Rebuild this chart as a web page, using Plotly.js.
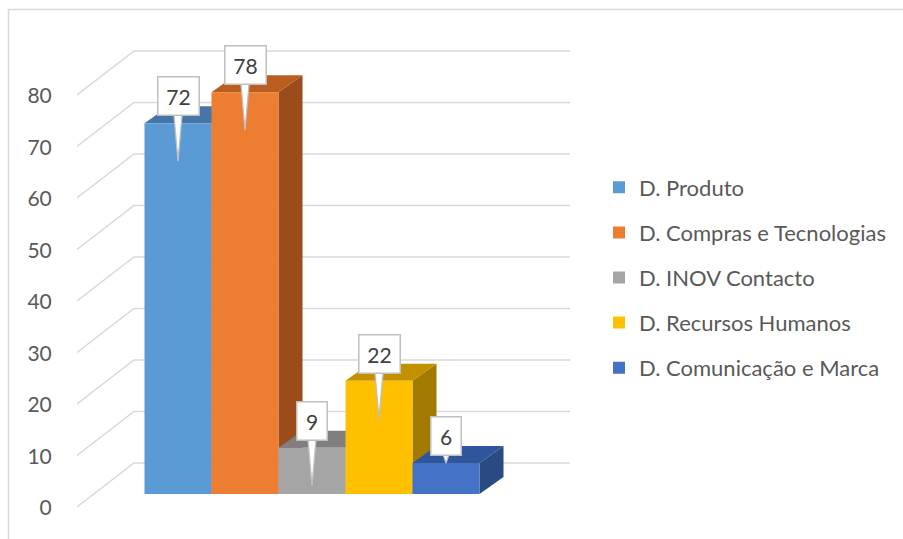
<!DOCTYPE html>
<html>
<head>
<meta charset="utf-8">
<script src="https://cdn.plot.ly/plotly-3.0.1.min.js"></script>
<style>html,body{margin:0;padding:0;background:#fff;} #chart{width:903px;height:539px;}</style>
</head>
<body>
<div id="chart"></div>
<script>
// ---- data ----
const categories = ['D. Produto', 'D. Compras e Tecnologias', 'D. INOV Contacto', 'D. Recursos Humanos', 'D. Comunicação e Marca'];
const values = [72, 78, 9, 22, 6];
const yTicks = [0, 10, 20, 30, 40, 50, 60, 70, 80];
const frontColors = ['#5B9BD5', '#ED7D31', '#A5A5A5', '#FFC000', '#4472C4'];
const topColors = ['#4676A8', '#B95E1F', '#7F7F7F', '#C29100', '#2F569A'];
const sideColors = ['#3B6690', '#9C4B1B', '#6B6B6B', '#A37A00', '#2A4A82'];

// ---- geometry (style) ----
const W = 903, H = 539;
const M = {l: 77, r: 323, t: 30, b: 19};
const xRange = [-1.5075, 6.0];
const yRange = [-5.05, 90.10];
const pw = W - M.l - M.r, ph = H - M.t - M.b;
const pxX = pw / (xRange[1] - xRange[0]);
const pxY = ph / (yRange[1] - yRange[0]);
const dX = 24 / pxX, dY = 17 / pxY;         // 3D depth offset
const barW = 1;
const wallBack = 31 / pxY;                  // back wall zero offset
const wallFront = -13 / pxY;                // side wall front edge offset
const sideFrontX = xRange[0], backLeftX = -0.657, backRightX = 5.851;
const FONT = 'Lato, sans-serif';

const traces = [];

// gridlines (back wall + side wall)
const gx = [], gy = [];
yTicks.forEach(v => {
  gx.push(sideFrontX, backLeftX, backRightX, null);
  gy.push(v + wallFront, v + wallBack, v + wallBack, null);
});
traces.push({type: 'scatter', mode: 'lines', x: gx, y: gy, xaxis: 'x', yaxis: 'y',
  line: {color: '#D9D9D9', width: 1.5}, hoverinfo: 'skip', showlegend: false});

// 3D side & top faces (left to right)
values.forEach((v, i) => {
  const x0 = i - barW / 2, x1 = i + barW / 2;
  traces.push({type: 'scatter', mode: 'lines', fill: 'toself', xaxis: 'x', yaxis: 'y',
    x: [x1, x1, x1 + dX, x1 + dX, x1], y: [0, v, v + dY, dY, 0],
    fillcolor: sideColors[i], line: {width: 0, color: sideColors[i]}, hoverinfo: 'skip', showlegend: false});
  traces.push({type: 'scatter', mode: 'lines', fill: 'toself', xaxis: 'x', yaxis: 'y',
    x: [x0, x1, x1 + dX, x0 + dX, x0], y: [v, v, v + dY, v + dY, v],
    fillcolor: topColors[i], line: {width: 0, color: topColors[i]}, hoverinfo: 'skip', showlegend: false});
});

// front faces (bars)
values.forEach((v, i) => {
  traces.push({type: 'bar', x: [i], y: [v], width: barW, name: categories[i],
    legendgroup: 'g' + i, xaxis: 'x', yaxis: 'y2',
    marker: {color: frontColors[i], line: {width: 0}}, hoverinfo: 'name+y'});
});

// callout tails + value labels
const annotations = [];
values.forEach((v, i) => {
  const hpx = v * pxY;
  const tipPx = hpx > 45 ? 38 : 0;
  const tipY = v - tipPx / pxY;
  const baseY = v + 13 / pxY;
  const hw = 4.5 / pxX;
  traces.push({type: 'scatter', mode: 'lines', fill: 'toself', xaxis: 'x', yaxis: 'y2',
    x: [i - hw, i, i + hw, i - hw], y: [baseY, tipY, baseY, baseY],
    fillcolor: '#FFFFFF', line: {color: '#BFBFBF', width: 1.3}, hoverinfo: 'skip', showlegend: false});
  const txt = String(v);
  annotations.push({x: i, y: v, xref: 'x', yref: 'y2', yshift: 27, text: txt, showarrow: false,
    bgcolor: '#FFFFFF', bordercolor: '#BFBFBF', borderwidth: 1.5, borderpad: 7,
    width: txt.length * 11 + 4, height: 23,
    font: {family: FONT, size: 21, color: '#404040'}, xanchor: 'center', yanchor: 'middle'});
});

const px2paperX = p => (p - M.l) / pw;
const px2paperY = p => (H - M.b - p) / ph;

const layout = {
  width: W, height: H,
  margin: M,
  paper_bgcolor: '#FFFFFF', plot_bgcolor: 'rgba(0,0,0,0)',
  font: {family: FONT, color: '#595959'},
  barmode: 'overlay',
  showlegend: true,
  xaxis: {range: xRange, showgrid: false, zeroline: false, showticklabels: false, showline: false, ticks: '', fixedrange: true},
  yaxis: {range: yRange, tickvals: yTicks, ticktext: yTicks.map(String), showgrid: false, zeroline: false, showline: false,
    ticks: 'outside', ticklen: 20, tickcolor: 'rgba(0,0,0,0)', ticklabelshift: 14,
    tickfont: {family: FONT, size: 21, color: '#595959'}},
  yaxis2: {range: yRange, overlaying: 'y', showgrid: false, zeroline: false, showticklabels: false, showline: false, ticks: ''},
  legend: {x: px2paperX(599), xanchor: 'left', y: px2paperY(277.5), yanchor: 'middle',
    traceorder: 'grouped', tracegroupgap: 13.5,
    font: {family: FONT, size: 22, color: '#595959'}, bgcolor: 'rgba(0,0,0,0)'},
  annotations: annotations,
  shapes: [{type: 'rect', xref: 'paper', yref: 'paper', layer: 'below',
    x0: px2paperX(8.5), x1: px2paperX(920), y0: px2paperY(560), y1: px2paperY(9.5),
    line: {color: '#D9D9D9', width: 1.5}, fillcolor: 'rgba(0,0,0,0)'}]
};

Plotly.newPlot('chart', traces, layout, {displayModeBar: false, staticPlot: true});
</script>
</body>
</html>
